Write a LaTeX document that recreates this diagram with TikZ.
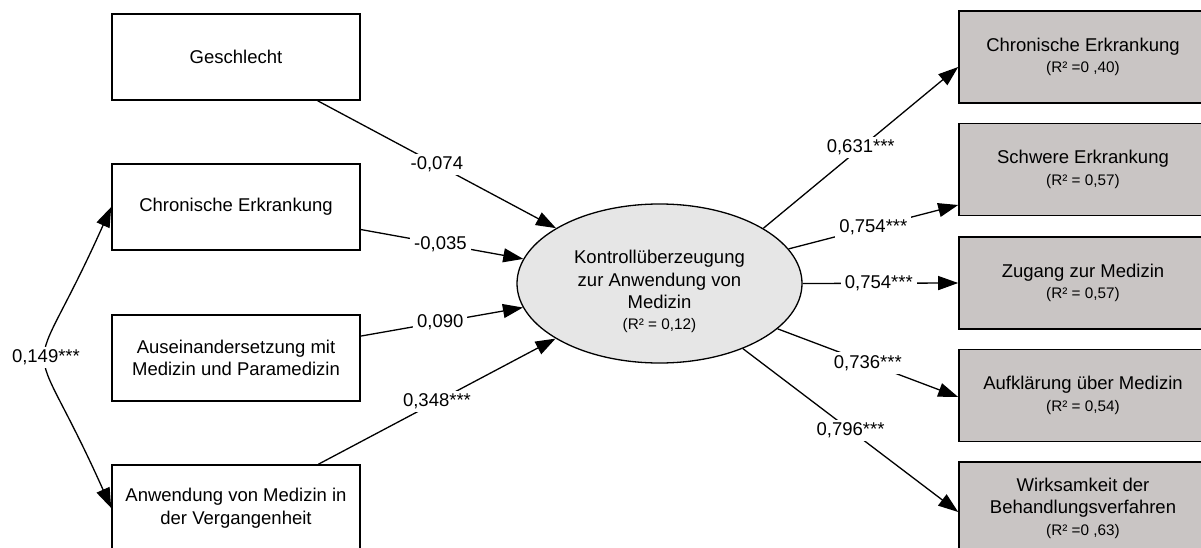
\documentclass[tikz,border=0pt]{standalone}
\usepackage{fontspec}
\setmainfont{Liberation Sans}
\usetikzlibrary{arrows.meta,shapes.geometric}
\definecolor{boxgray}{RGB}{201,197,196}
\definecolor{ellgray}{RGB}{230,230,230}
\newcommand\smalltxt[1]{{\fontsize{15.3}{18}\selectfont #1}}

\begin{document}
\begin{tikzpicture}[x=1pt,y=-1pt,
  bigfont/.style={font=\fontsize{18.5}{22.5}\selectfont},
  varbox/.style={draw=black, line width=1.6pt, minimum width=248pt,
    minimum height=86pt, inner sep=0pt, align=center, bigfont},
  outbox/.style={varbox, fill=boxgray, minimum height=92pt},
  arr/.style={line width=1.3pt, -{Triangle[length=20pt,width=14pt]}},
  dblarr/.style={line width=1.3pt,
    {Triangle[length=20pt,width=14pt]}-{Triangle[length=20pt,width=14pt]}},
  lbl/.style={fill=white, inner xsep=4pt, inner ysep=3pt, bigfont}
]
\useasboundingbox (0,0) rectangle (1201,548);
\clip (0,0) rectangle (1201,548);

% predictors
\node[varbox] (gesch)  at (236,57)  {Geschlecht};
\node[varbox] (chron)  at (236,207) {Chronische Erkrankung};
\node[varbox] (ausein) at (236,358) {Auseinandersetzung mit\\Medizin und Paramedizin};
\node[varbox] (anw)    at (236,508) {Anwendung von Medizin in\\der Vergangenheit};

% latent construct
\node[ellipse, draw=black, line width=1.3pt, fill=ellgray, inner sep=0pt,
  minimum width=285pt, minimum height=159pt] (ell) at (659.5,283.5) {};
\node[align=center, bigfont, inner sep=0pt] (elltext) at (659.5,291.5)
  {Kontrollüberzeugung\\zur Anwendung von\\Medizin\\[-2pt]\smalltxt{(R² = 0,12)}};

% indicators
\node[outbox] (r1) at (1083,57)    {Chronische Erkrankung\\[-1pt]\smalltxt{(R² =0 ,40)}};
\node[outbox] (r2) at (1083,169.5) {Schwere Erkrankung\\[-1pt]\smalltxt{(R² = 0,57)}};
\node[outbox] (r3) at (1083,283)   {Zugang zur Medizin\\[-1pt]\smalltxt{(R² = 0,57)}};
\node[outbox] (r4) at (1083,395.5) {Aufklärung über Medizin\\[-1pt]\smalltxt{(R² = 0,54)}};
\node[outbox] (r5) at (1083,508)   {Wirksamkeit der\\Behandlungsverfahren\\[-1pt]\smalltxt{(R² =0 ,63)}};

% paths into the construct
\draw[arr] (gesch)  -- (ell) node[lbl,pos=.5]  {-0,074};
\draw[arr] (chron)  -- (ell) node[lbl,pos=.49] {-0,035};
\draw[arr] (ausein) -- (ell) node[lbl,pos=.49] {0,090};
\draw[arr] (anw)    -- (ell) node[lbl,pos=.5]  {0,348***};

% correlation between predictors
\draw[dblarr] (anw.west) .. controls +(-87,-195) and +(-87,195) .. (chron.west)
  node[lbl,pos=.5] {0,149***};

% loadings
\draw[arr] (ell.28)   -- ([yshift=-10pt]r1.west)   node[lbl,pos=.5]  {0,631***};
\draw[arr] (ell.15)   -- ([yshift=-35.5pt]r2.west) node[lbl,pos=.5]  {0,754***};
\draw[arr] (ell.east) -- (r3.west)                 node[lbl,pos=.49] {0,754***};
\draw[arr] (ell.-21)  -- ([yshift=-1.5pt]r4.west)  node[lbl,pos=.5]  {0,736***};
\draw[arr] (ell.-38)  -- ([yshift=-4pt]r5.west)    node[lbl,pos=.5]  {0,796***};
\end{tikzpicture}
\end{document}
